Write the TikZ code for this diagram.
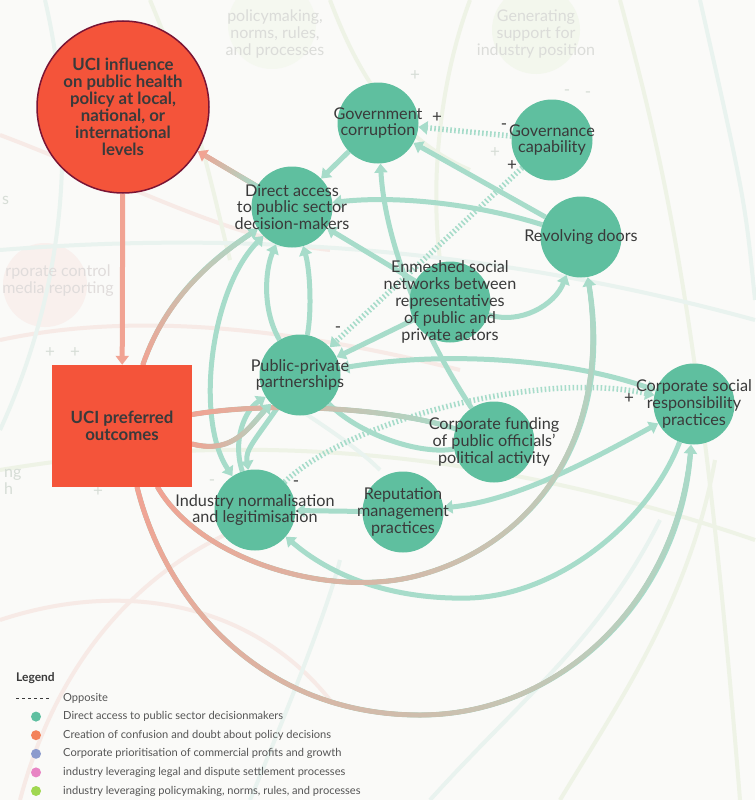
\documentclass[tikz,border=0pt]{standalone}
\usepackage{fontspec}
\setmainfont{Lato}
\usetikzlibrary{arrows.meta,decorations.markings}

\definecolor{bgcol}{HTML}{FAFAF8}
\definecolor{nodeteal}{HTML}{5FBF9F}
\definecolor{edgeteal}{HTML}{A7DCCA}
\definecolor{ucired}{HTML}{F4543A}
\definecolor{ucirim}{HTML}{7A1434}
\definecolor{edgesalmon}{HTML}{F1A393}
\definecolor{inktext}{HTML}{3A3A3A}
\definecolor{legtext}{HTML}{555555}
\definecolor{legteal}{HTML}{5EBFA0}
\definecolor{legorange}{HTML}{F3825A}
\definecolor{legblue}{HTML}{8C9BCD}
\definecolor{legpink}{HTML}{E884C4}
\definecolor{leggreen}{HTML}{A0D750}
\definecolor{ghostleaf}{HTML}{EEF3E6}
\definecolor{ghostrose}{HTML}{F7EAE6}
\definecolor{ghostsea}{HTML}{E9F3EF}
\definecolor{ghostink}{HTML}{D6DDD6}

\pgfdeclarelayer{ghost}
\pgfdeclarelayer{edges}
\pgfsetlayers{ghost,edges,main}

\begin{document}
\begin{tikzpicture}[x=1pt,y=-1pt,
  >={Triangle[length=9pt,width=13pt]},
  hub/.style={circle,fill=nodeteal,minimum size=81pt,inner sep=0pt},
  lbl/.style={align=center,text=inktext,font=\fontsize{16.2}{16.8}\selectfont,inner sep=0pt},
  boldlbl/.style={lbl,font=\bfseries\fontsize{16.8}{17}\selectfont},
  link/.style={draw=edgeteal,line width=5pt,->},
  both/.style={link,<->},
  plain/.style={draw=edgeteal,line width=5pt},
  hatch/.style={link,line width=5.5pt,dash pattern=on 1.6pt off 2.4pt},
  sign/.style={text=inktext,font=\fontsize{17}{17}\selectfont,inner sep=0pt},
  ghost/.style={line width=4pt},
  ghosttext/.style={align=center,inner sep=0pt,font=\fontsize{16}{17}\selectfont},
  fade/.style 2 args={postaction={decorate,decoration={markings,
    mark=between positions 0 and -10pt step 1pt with {%
      \pgfmathtruncatemacro\fadepct{\pgfkeysvalueof{/pgf/decoration/mark info/distance from start}/\pgfdecoratedpathlength*100}%
      \fill[#2!\fadepct!#1] (0,0) circle (2.5pt);}}}},
]
  \useasboundingbox (0,0) rectangle (755,800);

  % faded part of the wider map
  \begin{pgfonlayer}{ghost}
    \fill[bgcol] (0,0) rectangle (755,800);
    \fill[ghostleaf!60] (272,25) circle (44);
    \fill[ghostleaf!70] (536,30) circle (44);
    \fill[ghostrose!70] (45,285) circle (42);
    \draw[ghost,ghostrose] (0,135) .. controls (120,180) and (230,240) .. (330,250);
    \draw[ghost,ghostrose] (0,340) .. controls (140,310) and (300,330) .. (460,370);
    \draw[ghost,ghostrose] (20,800) .. controls (60,650) and (150,560) .. (260,520);
    \draw[ghost,ghostrose] (0,620) .. controls (120,580) and (250,600) .. (330,700);
    \draw[ghost,ghostsea] (45,0) .. controls (80,150) and (60,300) .. (0,430);
    \draw[ghost,ghostleaf] (150,0) .. controls (200,120) and (210,180) .. (230,260);
    \draw[ghost,ghostleaf] (330,0) .. controls (360,80) and (400,140) .. (470,170);
    \draw[ghost,ghostleaf] (470,0) .. controls (440,80) and (430,180) .. (440,260);
    \draw[ghost,ghostleaf] (620,0) .. controls (660,150) and (700,300) .. (740,800);
    \draw[ghost,ghostsea] (700,0) .. controls (745,200) .. (755,300);
    \draw[ghost,ghostleaf] (560,800) .. controls (620,700) and (690,600) .. (715,460);
    \draw[ghost,ghostsea] (430,800) .. controls (520,700) and (600,640) .. (660,520);
    \draw[ghost,ghostsea] (0,250) .. controls (250,230) and (500,250) .. (755,320);
    \draw[ghost,ghostleaf] (0,470) .. controls (300,420) and (550,470) .. (755,540);
    \draw[ghost,ghostsea] (250,800) .. controls (300,680) and (330,600) .. (340,560);
    \draw[ghost,ghostsea] (300,410) .. controls (330,430) and (360,450) .. (380,470);
    \node[ghosttext,text=ghostleaf!50!gray!50] (g-pol) at (275,34) {policymaking,\\norms, rules,\\and processes};
    \node[ghosttext,text=ghostleaf!50!gray!50] (g-gen) at (536,34) {Generating\\support for\\industry position};
    \node[ghosttext,text=ghostrose!60!gray!55] (g-med) at (58,281) {rporate control\\media reporting};
    \node[ghosttext,text=ghostink,anchor=west] (g-s) at (2,200) {s};
    \node[ghosttext,text=ghostink,anchor=west,align=left] (g-ng) at (4,482) {ng\\h};
    \foreach \x/\y/\s [count=\k] in {415/76/+,495/153/+,50/353/+,75/353/+,98/492/+,567/93/-,588/95/-,212/483/-}
      \node[sign,text=ghostink] (g-\k) at (\x,\y) {\s};
  \end{pgfonlayer}

  % factors
  \node[circle,fill=ucired,draw=ucirim,line width=1.5pt,minimum size=172pt] (inf) at (123,107) {};
  \node[boldlbl] (inf-t) at (inf) {UCI influence\\on public health\\policy at local,\\national, or\\international\\levels};
  \node[fill=ucired,minimum width=140pt,minimum height=122pt,inner sep=0pt] (pref) at (122,426) {};
  \node[boldlbl] (pref-t) at (pref) {UCI preferred\\outcomes};
  \node[hub] (gov) at (378,123) {};
  \node[hub] (cap) at (552,140) {};
  \node[hub] (rev) at (581,237) {};
  \node[hub] (dir) at (292,207) {};
  \node[hub] (enm) at (450,302) {};
  \node[hub] (ppp) at (300,375) {};
  \node[hub] (fund) at (494,442) {};
  \node[hub] (csr) at (694,404) {};
  \node[hub] (rep) at (403,512) {};
  \node[hub] (ind) at (255,510) {};
  \node[lbl] (gov-t) at (gov) {Government\\corruption};
  \node[lbl] (cap-t) at (cap) {Governance\\capability};
  \node[lbl] (rev-t) at (rev) {Revolving doors};
  \node[lbl] (dir-t) at (dir) {Direct access\\to public sector\\decision-makers};
  \node[lbl] (enm-t) at (enm) {Enmeshed social\\networks between\\representatives\\of public and\\private actors};
  \node[lbl] (ppp-t) at (ppp) {Public-private\\partnerships};
  \node[lbl] (fund-t) at (fund) {Corporate funding\\of public officials'\\political activity};
  \node[lbl] (csr-t) at (csr) {Corporate social\\responsibility\\practices};
  \node[lbl] (rep-t) at (rep) {Reputation\\management\\practices};
  \node[lbl] (ind-t) at (ind) {Industry normalisation\\and legitimisation};

  % links
  \begin{pgfonlayer}{edges}
    \draw[link] (gov) -- (dir);
    \draw[hatch] (cap) -- (gov);
    \draw[link] (rev) -- (gov);
    \draw[link] (rev) .. controls (480,205) and (400,195) .. (dir);
    \draw[link] (enm) -- (dir);
    \draw[link] (fund) .. controls (420,330) and (385,240) .. (gov);
    \draw[hatch] (cap) -- (ppp);
    \draw[link] (enm) -- (ppp);
    \draw[link] (enm) .. controls (520,325) and (555,305) .. (rev);
    \draw[link] (csr) .. controls (650,520) and (560,595) .. (470,598) .. controls (390,600) and (330,575) .. (ind);
    \draw[both] (csr) .. controls (600,455) and (520,500) .. (rep);
    \draw[both] (ppp) .. controls (450,350) and (570,360) .. (csr);
    \draw[hatch] (ind) .. controls (350,420) and (540,370) .. (csr);
    \draw[link] (rep) -- (ind);
    \draw[plain] (ppp) .. controls (360,435) and (420,455) .. (fund);
    \draw[link] (ppp) .. controls (262,310) and (265,270) .. (dir);
    \draw[link] (ppp) .. controls (312,310) and (310,270) .. (dir);
    \draw[both] (dir) .. controls (210,290) and (195,420) .. (ind);
    \draw[link] (ind) .. controls (232,440) and (245,410) .. (ppp);
    \draw[link] (ppp) .. controls (255,440) and (245,450) .. (ind);
    \draw[link,draw=edgesalmon] (inf) -- (pref);
    \draw[link,draw=edgesalmon,fade={edgeteal}{edgesalmon}] (dir) -- (inf);
    \draw[link,fade={edgesalmon}{edgeteal}] (pref) .. controls (200,560) and (330,600) .. (420,575) .. controls (530,545) and (615,440) .. (rev);
    \draw[link,fade={edgesalmon}{edgeteal}] (pref) .. controls (165,600) and (260,715) .. (420,715) .. controls (560,715) and (680,600) .. (csr);
    \draw[plain,fade={edgesalmon}{edgeteal}] (pref) .. controls (280,400) and (400,410) .. (fund);
    \draw[link,fade={edgesalmon}{edgeteal}] (pref) .. controls (235,455) and (250,425) .. (ppp);
    \draw[link,fade={edgesalmon}{edgeteal}] (pref) .. controls (165,300) and (210,260) .. (dir);
  \end{pgfonlayer}

  % polarity marks
  \node[sign] (s-cap1) at (504,127) {-};
  \node[sign] (s-gov1) at (437,118) {+};
  \node[sign] (s-cap2) at (512,166) {+};
  \node[sign] (s-ppp2) at (338,330) {-};
  \node[sign] (s-ind3) at (296,484) {-};
  \node[sign] (s-csr3) at (629,399) {+};

  % legend
  \node[anchor=west,inner sep=0pt,text=inktext,font=\bfseries\fontsize{12}{13}\selectfont] (leg) at (16,678) {Legend};
  \draw[line width=1pt,inktext,dash pattern=on 3pt off 3pt] (16,698) -- ++(34,0);
  \node[anchor=west,inner sep=0pt,text=legtext,font=\fontsize{11.1}{12}\selectfont] (leg-0) at (63,698) {Opposite};
  \foreach \c/\t [count=\i] in {legteal/{Direct access to public sector decisionmakers},
      legorange/{Creation of confusion and doubt about policy decisions},
      legblue/{Corporate prioritisation of commercial profits and growth},
      legpink/{industry leveraging legal and dispute settlement processes},
      leggreen/{industry leveraging policymaking, norms, rules, and processes}}{
    \fill[\c] (36,{698+\i*18.6}) circle (5);
    \node[anchor=west,inner sep=0pt,text=legtext,font=\fontsize{11.1}{12}\selectfont] (leg-\i) at (63,{698+\i*18.6}) {\t};
  }
\end{tikzpicture}
\end{document}
